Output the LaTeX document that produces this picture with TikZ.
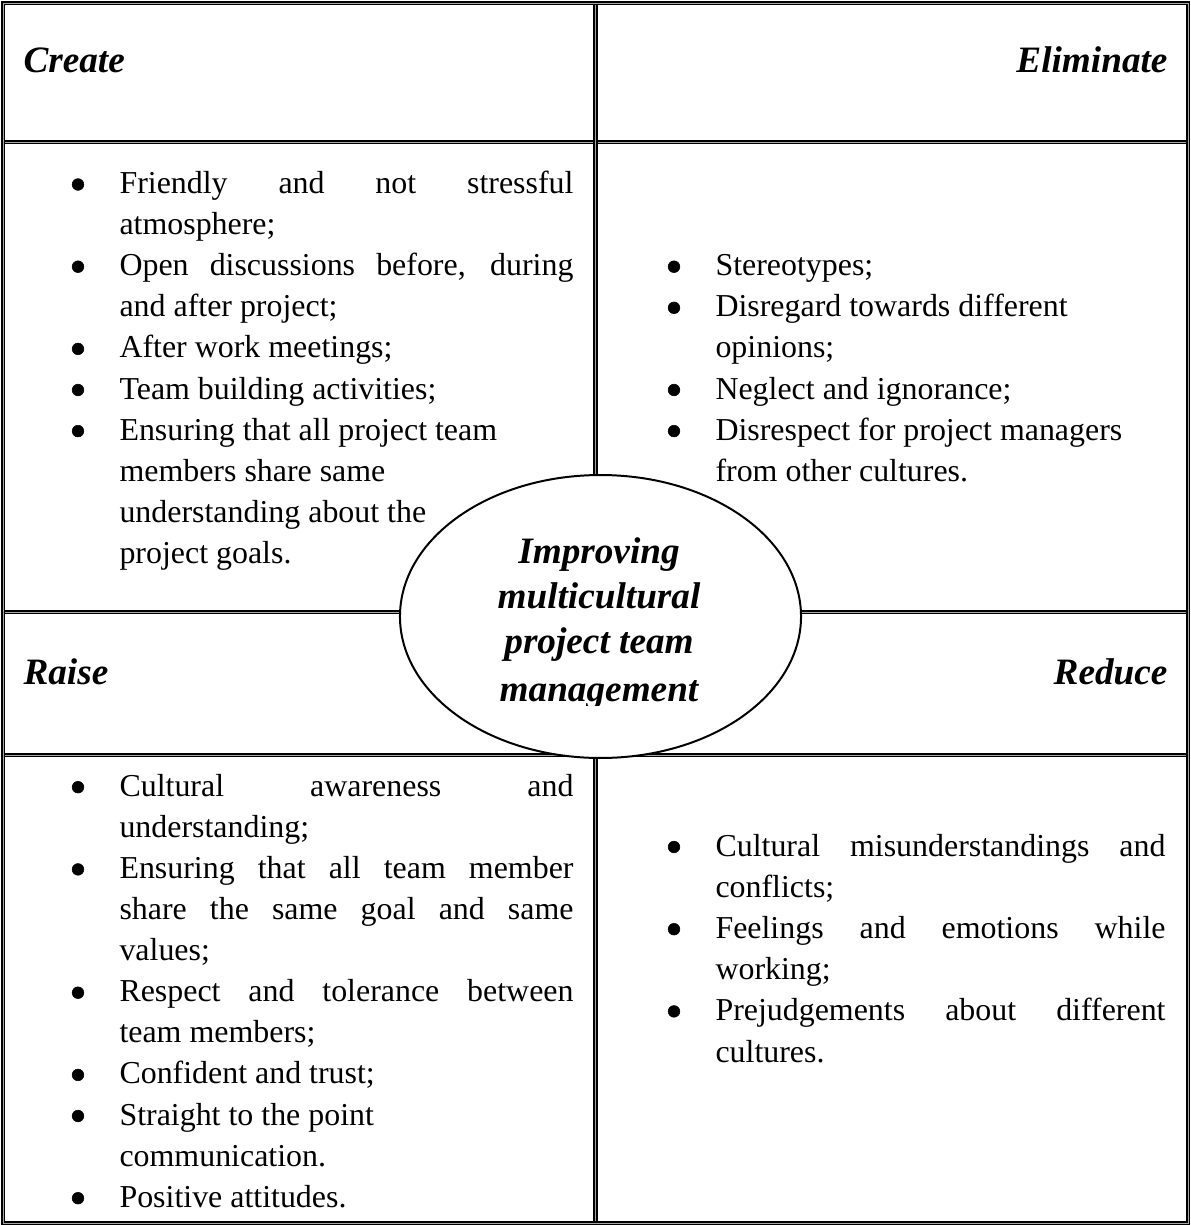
\documentclass[tikz,border=0pt]{standalone}
\usepackage{fontspec}
\setmainfont{Liberation Serif}
\usetikzlibrary{shapes.geometric}
% justified lines for the left and right columns
\newcommand\jleft[1]{\makebox[170.7pt][s]{#1}}
\newcommand\jright[1]{\makebox[169.2pt][s]{#1}}
\begin{document}
\begin{tikzpicture}[x=0.376pt,y=-0.376pt,
  frame/.style={line width=0.55pt, double=gray!70, double distance=0.25pt},
  rule/.style={line width=0.75pt, double=gray!70, double distance=0.3pt},
  txt/.style={anchor=base west, inner sep=0pt, font=\fontsize{12}{14}\selectfont},
  head/.style={inner sep=0pt, font=\fontsize{14}{16}\selectfont\bfseries\itshape},
  dot/.style={circle, fill=black, draw=black, line width=0.2pt, inner sep=0pt, minimum size=4.4pt},
  hub/.style={ellipse, draw, fill=white, line width=0.75pt, inner sep=0pt,
              minimum width=150.8pt, minimum height=106.4pt},
  hubtext/.style={anchor=base, inner sep=0pt, font=\fontsize{14}{16}\selectfont\bfseries\itshape}
]
\useasboundingbox (0,0) rectangle (1191,1225);
\fill[white] (0,0) rectangle (1191,1225);

% table rules
\draw[rule] (3,142) -- (1188,142);
\draw[rule] (3,612) -- (1188,612);
\draw[rule] (3,755) -- (1188,755);
\draw[rule] (595.5,3) -- (595.5,1223);
\draw[frame] (3,3) rectangle (1188,1223);

% headings
\node[head, anchor=base west] (create) at (23,72) {Create};
\node[head, anchor=base east] (elim) at (1168,72) {Eliminate};
\node[head, anchor=base west] (raise) at (23,684) {Raise};
\node[head, anchor=base east] (reduce) at (1168,684) {Reduce};

% Create
\node[dot] (c1) at (78,184.5) {};
\node[txt] (c1a) at (119,193.5) {\jleft{Friendly and not stressful}};
\node[txt] (c1b) at (119,234.6) {atmosphere;};
\node[dot] (c2) at (78,266.7) {};
\node[txt] (c2a) at (119,275.7) {\jleft{Open discussions before, during}};
\node[txt] (c2b) at (119,316.8) {and after project;};
\node[dot] (c3) at (78,348.9) {};
\node[txt] (c3a) at (119,357.9) {After work meetings;};
\node[dot] (c4) at (78,390.0) {};
\node[txt] (c4a) at (119,399.0) {Team building activities;};
\node[dot] (c5) at (78,431.1) {};
\node[txt] (c5a) at (119,440.1) {Ensuring that all project team};
\node[txt] (c5b) at (119,481.2) {members share same};
\node[txt] (c5c) at (119,522.3) {understanding about the};
\node[txt] (c5d) at (119,563.4) {project goals.};

% Eliminate
\node[dot] (e1) at (674,266.7) {};
\node[txt] (e1a) at (715,275.7) {Stereotypes;};
\node[dot] (e2) at (674,307.8) {};
\node[txt] (e2a) at (715,316.8) {Disregard towards different};
\node[txt] (e2b) at (715,357.9) {opinions;};
\node[dot] (e3) at (674,390.0) {};
\node[txt] (e3a) at (715,399.0) {Neglect and ignorance;};
\node[dot] (e4) at (674,431.1) {};
\node[txt] (e4a) at (715,440.1) {Disrespect for project managers};
\node[txt] (e4b) at (715,481.2) {from other cultures.};

% Raise
\node[dot] (r1) at (78,787.2) {};
\node[txt] (r1a) at (119,796.2) {\jleft{Cultural awareness and}};
\node[txt] (r1b) at (119,837.3) {understanding;};
\node[dot] (r2) at (78,869.4) {};
\node[txt] (r2a) at (119,878.4) {\jleft{Ensuring that all team member}};
\node[txt] (r2b) at (119,919.5) {\jleft{share the same goal and same}};
\node[txt] (r2c) at (119,960.6) {values;};
\node[dot] (r3) at (78,992.7) {};
\node[txt] (r3a) at (119,1001.7) {\jleft{Respect and tolerance between}};
\node[txt] (r3b) at (119,1042.8) {team members;};
\node[dot] (r4) at (78,1074.9) {};
\node[txt] (r4a) at (119,1083.9) {Confident and trust;};
\node[dot] (r5) at (78,1116.0) {};
\node[txt] (r5a) at (119,1125.0) {Straight to the point};
\node[txt] (r5b) at (119,1166.1) {communication.};
\node[dot] (r6) at (78,1198.2) {};
\node[txt] (r6a) at (119,1207.2) {Positive attitudes.};

% Reduce
\node[dot] (d1) at (674,847.0) {};
\node[txt] (d1a) at (715,856.5) {\jright{Cultural misunderstandings and}};
\node[txt] (d1b) at (715,897.6) {conflicts;};
\node[dot] (d2) at (674,929.2) {};
\node[txt] (d2a) at (715,938.7) {\jright{Feelings and emotions while}};
\node[txt] (d2b) at (715,979.8) {working;};
\node[dot] (d3) at (674,1011.4) {};
\node[txt] (d3a) at (715,1020.9) {\jright{Prejudgements about different}};
\node[txt] (d3b) at (715,1062.0) {cultures.};

% central ellipse
\node[hub] (hub) at (600.5,616.5) {};
\begin{scope}
  \clip (400,470) rectangle (801,705);
  \node[hubtext] (h1) at (599,563) {Improving};
  \node[hubtext] (h2) at (599,608) {multicultural};
  \node[hubtext] (h3) at (599,653) {project team};
  \node[hubtext] (h4) at (599,701) {management};
\end{scope}
\end{tikzpicture}
\end{document}
